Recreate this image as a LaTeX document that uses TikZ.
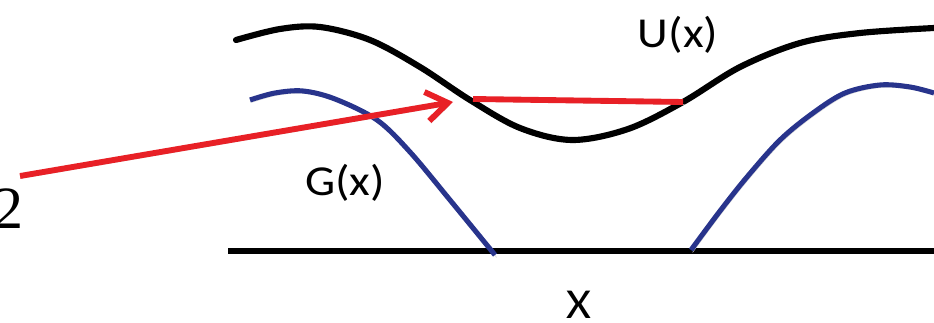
\documentclass[tikz,border=0pt]{standalone}
\usepackage{fontspec}
\setmainfont{Liberation Serif}
\newfontfamily\labfont{Carlito}
\usetikzlibrary{arrows.meta}
\definecolor{ured}{RGB}{232,32,38}
\definecolor{gblue}{RGB}{40,52,140}
\tikzset{
  ucurve/.style={line width=4.6pt, black, line cap=round, line join=round},
  gcurve/.style={line width=3.8pt, gblue, line cap=butt, line join=round},
  redline/.style={line width=4.4pt, ured},
  axisline/.style={line width=4.4pt, black},
  lab/.style={font=\labfont\fontsize{32}{32}\selectfont, xscale=1.12, inner sep=0pt},
  shadowed/.style={preaction={draw=black!18, transform canvas={shift={(1.2pt,-1.8pt)}}}}
}
\begin{document}
\begin{tikzpicture}[x=0.75pt,y=-0.75pt]
\useasboundingbox (0,0) rectangle (934,323);
% axis
\coordinate (axL) at (228,251);
\coordinate (axR) at (934,251);
\draw[axisline, shadowed] (axL) -- (axR);
% U(x)
\draw[ucurve, shadowed] plot[smooth, tension=0.55] coordinates {(236,40) (280,29) (320,27) (370,40) (420,67) (470,100) (520,128) (572,140) (628,129) (683,102) (740,67) (800,43) (860,33) (934,28)};
% G(x) left
\draw[gcurve, shadowed] plot[smooth, tension=0.55] coordinates {(250,100) (275,93) (303,91) (335,99) (377,120) (410,152) (450,200) (495,255)};
% G(x) right
\draw[gcurve, shadowed] plot[smooth, tension=0.55] coordinates {(691,250) (720,211) (747,177) (780,140) (813,113) (845,93) (880,85) (910,87) (934,93)};
% red segment
\coordinate (rA) at (473,99);
\coordinate (rB) at (683,102);
\draw[redline, shadowed] (rA) -- (rB);
% red arrow
\coordinate (aS) at (20,176);
\coordinate (aT) at (453,102);
\draw[redline, shadowed, -{Straight Barb[length=16pt,width=22pt]}] (aS) -- (aT);
% labels
\node[lab] (U) at (678,35) {U(x)};
\node[lab] (G) at (345,183) {G(x)};
\node[lab, anchor=base] (X) at (579,319) {X};
\node[font=\fontsize{45}{45}\selectfont, inner sep=0pt, anchor=base] (two) at (8,229) {2};
\end{tikzpicture}
\end{document}
